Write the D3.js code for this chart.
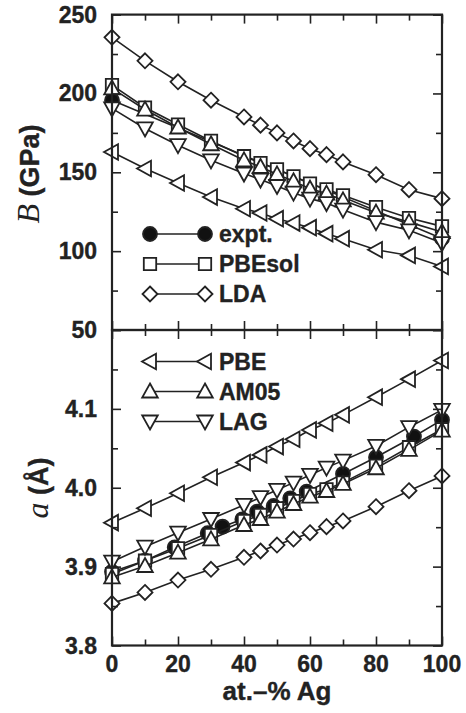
<!DOCTYPE html>
<html>
<head>
<meta charset="utf-8">
<script src="https://cdn.jsdelivr.net/npm/d3@7"></script>
<style>
  body { margin: 0; background: #fff; }
  text { font-family: "Liberation Sans", Arial, sans-serif; font-weight: bold; fill: #222; stroke: #222; stroke-width: 0.35px; }
</style>
</head>
<body>
<div id="chart"></div>
<script>
// x values (at.-% Ag) used by the calculations
var xCalc = [0, 10, 20, 30, 40, 45, 50, 55, 60, 65, 70, 80, 90, 100];

// bulk modulus B (GPa)
var bExpX = [0, 100];
var bExpt = [195.7, 108];
var bPBEsol = [205.3, 191.1, 180.3, 169.9, 160.2, 155.9, 151.9, 147.5, 142.8, 139.2, 135.4, 127.9, 121.0, 115.7];
var bLDA = [235.6, 220.7, 207.4, 195.7, 185.1, 179.9, 175.0, 169.9, 165.0, 161.2, 156.6, 148.5, 139.0, 133.3];
var bPBE = [162.9, 152.4, 143.2, 134.3, 126.9, 124.2, 120.6, 117.8, 114.9, 111.1, 107.9, 100.9, 97.3, 90.3];
var bAM05 = [203.2, 189.8, 178.4, 167.8, 157.6, 153.4, 148.7, 144.3, 139.6, 136.5, 132.2, 124.4, 118.4, 112.1];
var bLAG = [190.5, 177.8, 167.2, 157.6, 149.2, 145.4, 141.3, 137.1, 133.3, 130.5, 126.3, 118.4, 113.2, 105.1];

// lattice constant a (Angstrom)
var aExpX = [0, 10, 19, 29, 33.5, 39.5, 44, 49, 54, 59, 70, 80, 91.5, 100];
var aExpt = [3.8935, 3.9075, 3.9245, 3.9423, 3.9507, 3.960, 3.9697, 3.9769, 3.9866, 3.995, 4.0175, 4.0387, 4.0649, 4.086];
var aPBEsol = [3.8906, 3.9075, 3.9232, 3.9401, 3.9579, 3.9655, 3.974, 3.9832, 3.9921, 3.9981, 4.0065, 4.0277, 4.0514, 4.0742];
var aLDA = [3.8534, 3.8673, 3.883, 3.8966, 3.9118, 3.9198, 3.9274, 3.935, 3.943, 3.9507, 3.9579, 3.976, 3.9963, 4.015];
var aPBE = [3.9557, 3.974, 3.993, 4.0133, 4.0319, 4.0416, 4.0522, 4.0615, 4.0733, 4.0818, 4.0924, 4.1148, 4.1377, 4.1613];
var aAM05 = [3.8864, 3.9008, 3.9177, 3.9346, 3.9528, 3.9604, 3.9697, 3.9794, 3.9887, 3.9959, 4.0048, 4.0247, 4.048, 4.0725];
var aLAG = [3.9063, 3.9253, 3.943, 3.9604, 3.9782, 3.988, 3.9972, 4.0065, 4.0162, 4.0255, 4.0344, 4.053, 4.0768, 4.0987];

var xTicks = [0, 20, 40, 60, 80, 100];
var bTicks = [50, 100, 150, 200, 250];
var aTicks = [3.8, 3.9, 4.0, 4.1];

var W = 466, H = 713;
var pLeft = 112, pRight = 442, pTop = 14.6, pMid = 330, pBottom = 645.5;

var svg = d3.select("#chart").append("svg")
    .attr("width", W)
    .attr("height", H);

var x = d3.scaleLinear().domain([0, 100]).range([pLeft, pRight]);
var yB = d3.scaleLinear().domain([50, 250]).range([pMid, pTop]);
var yA = d3.scaleLinear().domain([3.8, 4.2]).range([pBottom, pMid]);

// marker shapes, centred on 0,0
function shape(type) {
    var s;
    switch (type) {
        case "circle": return d3.symbol().type(d3.symbolCircle).size(Math.PI * 7 * 7)();
        case "square": s = 6.2; return "M" + -s + "," + -s + "H" + s + "V" + s + "H" + -s + "Z";
        case "diamond": s = 7.5; return "M0," + -s + "L" + s + ",0L0," + s + "L" + -s + ",0Z";
        case "up": return "M0,-8L7.8,6L-7.8,6Z";
        case "down": return "M0,8L7.8,-6L-7.8,-6Z";
        case "left": return "M-8,0L6,-7.8L6,7.8Z";
    }
}

function series(g, y, xs, ys, type) {
    var pts = xs.map(function(d, i) { return [d, ys[i]]; });
    g.append("path")
        .datum(pts)
        .attr("fill", "none")
        .attr("stroke", "#222")
        .attr("stroke-width", 1.6)
        .attr("d", d3.line()
            .x(function(d) { return x(d[0]); })
            .y(function(d) { return y(d[1]); }));
    g.selectAll("path.m-" + type)
        .data(pts)
        .enter().append("path")
        .attr("class", "m-" + type)
        .attr("d", shape(type))
        .attr("transform", function(d) { return "translate(" + x(d[0]) + "," + y(d[1]) + ")"; })
        .attr("fill", type == "circle" ? "#111" : "#fff")
        .attr("stroke", "#222")
        .attr("stroke-width", 1.8);
}

var gTop = svg.append("g");
series(gTop, yB, bExpX, bExpt, "circle");
series(gTop, yB, xCalc, bLDA, "diamond");
series(gTop, yB, xCalc, bPBE, "left");
series(gTop, yB, xCalc, bPBEsol, "square");
series(gTop, yB, xCalc, bAM05, "up");
series(gTop, yB, xCalc, bLAG, "down");

var gBot = svg.append("g");
series(gBot, yA, xCalc, aLDA, "diamond");
series(gBot, yA, xCalc, aPBE, "left");
series(gBot, yA, aExpX, aExpt, "circle");
series(gBot, yA, xCalc, aPBEsol, "square");
series(gBot, yA, xCalc, aAM05, "up");
series(gBot, yA, xCalc, aLAG, "down");

// frames and ticks (inward, on all sides)
function frame(y, y0, y1, major, minor) {
    var g = svg.append("g");
    var yVals = d3.range(y.domain()[0], y.domain()[1] + minor / 2, minor);
    var ax = [
        d3.axisBottom(x).tickValues(d3.range(0, 101, 10)),
        d3.axisTop(x).tickValues(d3.range(0, 101, 10)),
        d3.axisLeft(y).tickValues(yVals),
        d3.axisRight(y).tickValues(yVals)
    ];
    var pos = ["translate(0," + y0 + ")", "translate(0," + y1 + ")",
               "translate(" + pLeft + ",0)", "translate(" + pRight + ",0)"];
    ax.forEach(function(a, k) {
        var isX = k < 2;
        a.tickFormat("").tickSize(0);
        var ag = g.append("g").attr("transform", pos[k]).call(a);
        ag.select(".domain").remove();
        ag.selectAll(".tick line")
            .attr("stroke", "#222")
            .attr("stroke-width", 1.6)
            .each(function(d) {
                var isMajor = isX ? (Math.round(d) % 20 == 0)
                    : Math.abs(Math.round(d / major) * major - d) < 1e-6;
                var len = isMajor ? 9 : 6;
                var dir = (k == 0 || k == 3) ? -1 : 1;
                if (isX) d3.select(this).attr("y2", dir * len);
                else d3.select(this).attr("x2", dir * len);
            });
    });
    g.append("rect")
        .attr("x", pLeft).attr("y", y1)
        .attr("width", pRight - pLeft).attr("height", y0 - y1)
        .attr("fill", "none")
        .attr("stroke", "#222")
        .attr("stroke-width", 2.2);
}
frame(yB, pMid, pTop, 50, 25);
frame(yA, pBottom, pMid, 0.1, 0.05);

// tick labels
svg.selectAll("text.bt")
    .data(bTicks)
    .enter().append("text")
    .attr("class", "bt")
    .attr("x", 97)
    .attr("y", function(d) { return yB(d) + 8; })
    .attr("text-anchor", "end")
    .style("font-size", "23px")
    .text(function(d) { return d; });

svg.selectAll("text.at")
    .data(aTicks)
    .enter().append("text")
    .attr("class", "at")
    .attr("x", 97)
    .attr("y", function(d) { return yA(d) + 8; })
    .attr("text-anchor", "end")
    .style("font-size", "23px")
    .text(function(d) { return d.toFixed(1); });

svg.selectAll("text.xt")
    .data(xTicks)
    .enter().append("text")
    .attr("class", "xt")
    .attr("x", function(d) { return x(d); })
    .attr("y", 672)
    .attr("text-anchor", "middle")
    .style("font-size", "23px")
    .text(function(d) { return d; });

svg.append("text")
    .attr("x", (pLeft + pRight) / 2)
    .attr("y", 700)
    .attr("text-anchor", "middle")
    .style("font-size", "26px")
    .text("at.\u2013% Ag");

// axis titles
var tB = svg.append("text")
    .attr("transform", "translate(39,174) rotate(-90)")
    .attr("text-anchor", "middle")
    .style("font-size", "27px");
tB.append("tspan").style("font-family", "Liberation Serif, Times New Roman, serif")
    .style("font-style", "italic").style("font-weight", "normal").style("stroke-width", "0")
    .style("font-size", "32px").text("B");
tB.append("tspan").text(" (GPa)");

var tA = svg.append("text")
    .attr("transform", "translate(48,488) rotate(-90)")
    .attr("text-anchor", "middle")
    .style("font-size", "27px");
tA.append("tspan").style("font-family", "Liberation Serif, Times New Roman, serif")
    .style("font-style", "italic").style("font-weight", "normal").style("stroke-width", "0")
    .style("font-size", "32px").text("a");
tA.append("tspan").text(" (\u00c5)");

// legends
function legend(items, y0) {
    items.forEach(function(it, i) {
        var yy = y0 + i * 30;
        var g = svg.append("g");
        g.append("line")
            .attr("x1", 150).attr("x2", 205)
            .attr("y1", yy).attr("y2", yy)
            .attr("stroke", "#222").attr("stroke-width", 1.6);
        [150, 205].forEach(function(xx) {
            g.append("path")
                .attr("d", shape(it[1]))
                .attr("transform", "translate(" + xx + "," + yy + ")")
                .attr("fill", it[1] == "circle" ? "#111" : "#fff")
                .attr("stroke", "#222")
                .attr("stroke-width", 1.8);
        });
        g.append("text")
            .attr("x", 219)
            .attr("y", yy + 8)
            .style("font-size", "23px")
            .text(it[0]);
    });
}
legend([["expt.", "circle"], ["PBEsol", "square"], ["LDA", "diamond"]], 234);
legend([["PBE", "left"], ["AM05", "up"], ["LAG", "down"]], 361.5);
</script>
</body>
</html>
